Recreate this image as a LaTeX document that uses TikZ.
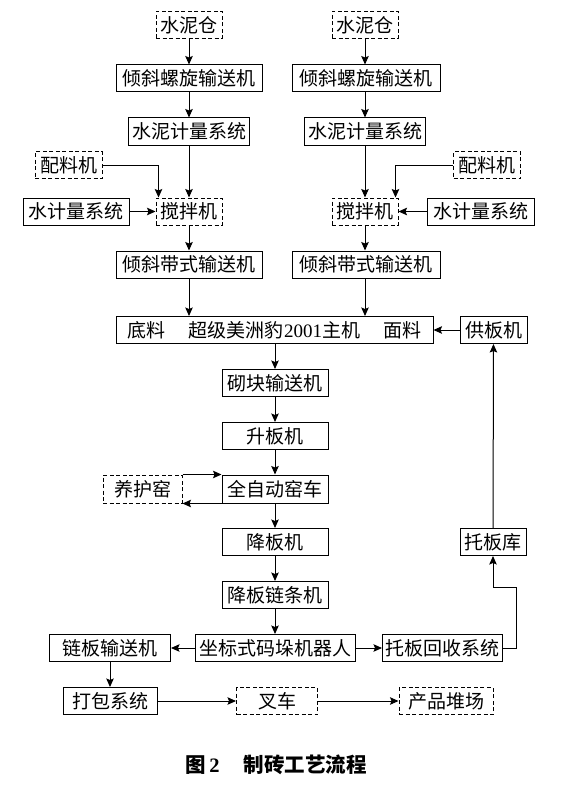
\documentclass[tikz,border=0pt]{standalone}
\usepackage{fontspec}
\setmainfont{Noto Sans CJK SC}
\newfontfamily\latin{Liberation Serif}
\usetikzlibrary{arrows.meta}
\tikzset{
  box/.style={draw, line width=1pt, inner sep=0pt, minimum height=27pt, font=\fontsize{19}{19}\selectfont, anchor=center},
  dbox/.style={box, dash pattern=on 4pt off 2.5pt},
  arr/.style={line width=1pt, -{Stealth[length=8.5pt,width=7.5pt,inset=1.5pt]}}
}
\begin{document}
\begin{tikzpicture}[x=1pt,y=-1pt]
\useasboundingbox (0,0) rectangle (567,797);
% left column
\node[dbox, minimum width=66pt] (cem1) at (189,25) {水泥仓};
\node[box, minimum width=146pt] (scr1) at (189,78.5) {倾斜螺旋输送机};
\node[box, minimum width=121pt] (met1) at (189,131.5) {水泥计量系统};
\node[dbox, minimum width=67pt] (pei1) at (68.5,165) {配料机};
\node[box, minimum width=106pt] (wat1) at (76,211.5) {水计量系统};
\node[dbox, minimum width=66pt] (mix1) at (189,211.5) {搅拌机};
\node[box, minimum width=146pt] (belt1) at (189,264.5) {倾斜带式输送机};
% right column
\node[dbox, minimum width=66pt] (cem2) at (365,25) {水泥仓};
\node[box, minimum width=148pt] (scr2) at (366,78.5) {倾斜螺旋输送机};
\node[box, minimum width=121pt] (met2) at (365,131.5) {水泥计量系统};
\node[dbox, minimum width=67pt] (pei2) at (487,165) {配料机};
\node[box, minimum width=107pt] (wat2) at (480.5,211.5) {水计量系统};
\node[dbox, minimum width=66pt] (mix2) at (365,211.5) {搅拌机};
\node[box, minimum width=148pt] (belt2) at (366,264.5) {倾斜带式输送机};
% main line
\node[box, minimum width=317pt] (main) at (274.5,330) {底料\hspace{24pt}超级美洲豹{\latin 2001}主机\hspace{24pt}面料};
\node[box, minimum width=67pt] (gong) at (493.5,330) {供板机};
\node[box, minimum width=106pt] (qk) at (275,383) {砌块输送机};
\node[box, minimum width=106pt] (sb) at (275,436) {升板机};
\node[box, minimum width=106pt, minimum height=28pt] (yc) at (275,489) {全自动窑车};
\node[dbox, minimum width=79pt, minimum height=28pt] (yhy) at (142.5,489) {养护窑};
\node[box, minimum width=106pt] (jb) at (275,542) {降板机};
\node[box, minimum width=66pt] (tbk) at (493,542) {托板库};
\node[box, minimum width=106pt] (jbl) at (275,595) {降板链条机};
\node[box, minimum width=160pt] (zb) at (275,648) {坐标式码垛机器人};
\node[box, minimum width=121pt] (lb) at (110,648) {链板输送机};
\node[box, minimum width=120pt] (tbh) at (442.5,648) {托板回收系统};
\node[box, minimum width=94pt] (db) at (110,701) {打包系统};
\node[dbox, minimum width=81pt] (cc) at (277,701) {叉车};
\node[dbox, minimum width=94pt] (cp) at (446,701) {产品堆场};
\node[font=\fontsize{20.5}{20.5}\selectfont\bfseries] (cap) at (276,765) {图\,{\latin\bfseries 2}\hspace{24pt}制砖工艺流程};
% connectors left
\draw[arr] (cem1) -- (scr1);
\draw[arr] (scr1) -- (met1);
\draw[arr] (met1) -- (mix1);
\draw[arr] (pei1.east) -| ([xshift=3pt]mix1.north west);
\draw[arr] (wat1) -- (mix1);
\draw[arr] (mix1) -- (belt1);
\draw[arr] (belt1.south) -- (belt1.south |- main.north);
% connectors right
\draw[arr] (cem2) -- (cem2 |- scr2.north);
\draw[arr] (cem2 |- scr2.south) -- (met2);
\draw[arr] (met2) -- (mix2);
\draw[arr] (pei2.west) -| ([xshift=-3pt]mix2.north east);
\draw[arr] (wat2) -- (mix2);
\draw[arr] (mix2) -- (mix2 |- belt2.north);
\draw[arr] (mix2 |- belt2.south) -- (mix2 |- main.north);
% main chain
\draw[arr] (gong) -- (main);
\draw[arr] (qk.north |- main.south) -- (qk.north);
\draw[arr] (qk) -- (sb);
\draw[arr] (sb) -- (yc);
\draw[arr] (yhy.north east) -- (yc.north west);
\draw[arr] (yc.south west) -- (yhy.south east);
\draw[arr] (yc) -- (jb);
\draw[arr] (jb) -- (jbl);
\draw[arr] (jbl) -- (zb);
\draw[arr] (zb) -- (lb);
\draw[arr] (zb) -- (tbh);
\draw[arr] (tbh.east) -| (516,587) -| (tbk.south);
\draw[arr] (tbk) -- (gong);
\draw[arr] (lb) -- (db);
\draw[arr] (db) -- (cc);
\draw[arr] (cc) -- (cp);
\end{tikzpicture}
\end{document}
